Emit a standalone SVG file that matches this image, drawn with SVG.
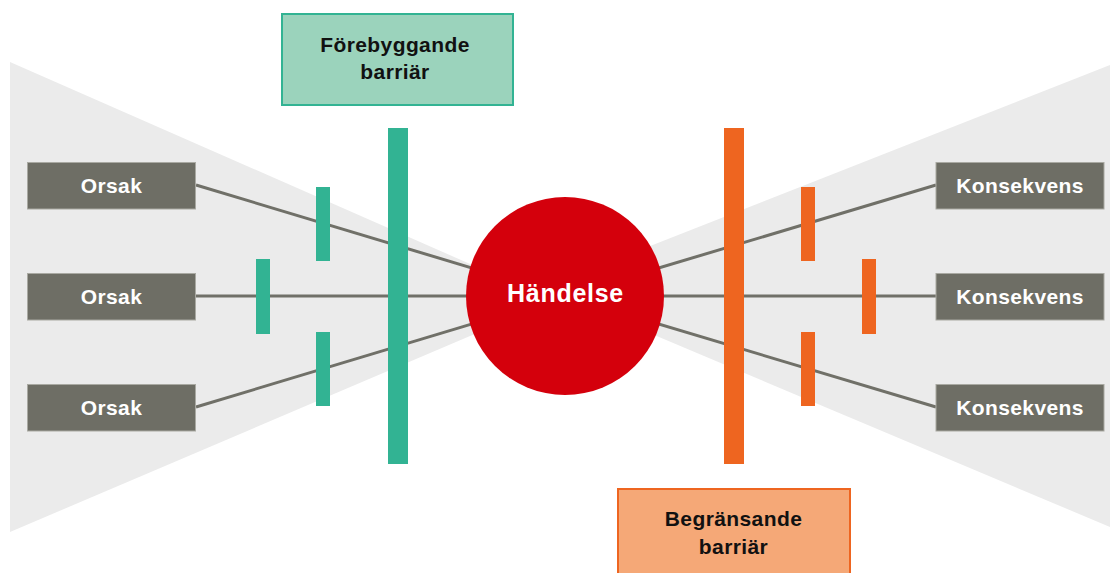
<svg xmlns="http://www.w3.org/2000/svg" width="1110" height="573" viewBox="0 0 1110 573">
<style>
.bg{fill:#ebebeb}
.box{fill:#6e6e65;stroke:#a9a9a2;stroke-width:1}
.lbl{font-family:"Liberation Sans",Arial,sans-serif;font-weight:bold;font-size:21px;letter-spacing:0.4px;fill:#ffffff;text-anchor:middle}
.dark{fill:#111111}
.conn{stroke:#707068;stroke-width:3;fill:none}
.g{fill:#32b393}
.o{fill:#ee6520}
</style>
<rect width="1110" height="573" fill="#ffffff"/>
<polygon class="bg" points="10,62 490,272.7 490,327.6 10,532"/>
<polygon class="bg" points="1110,65 640,250 640,329 1110,527"/>
<g id="connectors">
<line class="conn" x1="196" y1="185" x2="565" y2="296"/>
<line class="conn" x1="196" y1="296" x2="565" y2="296"/>
<line class="conn" x1="196" y1="407" x2="565" y2="296"/>
<line class="conn" x1="936" y1="185" x2="565" y2="296"/>
<line class="conn" x1="936" y1="296" x2="565" y2="296"/>
<line class="conn" x1="936" y1="407" x2="565" y2="296"/>
</g>
<g id="barriers-preventive">
<rect class="g" x="388" y="128" width="20" height="336"/>
<rect class="g" x="316" y="187" width="14" height="74"/>
<rect class="g" x="256" y="259" width="14" height="75"/>
<rect class="g" x="316" y="332" width="14" height="74"/>
</g>
<g id="barriers-limiting">
<rect class="o" x="724" y="128" width="20" height="336"/>
<rect class="o" x="801" y="187" width="14" height="74"/>
<rect class="o" x="862" y="259" width="14" height="75"/>
<rect class="o" x="801" y="332" width="14" height="74"/>
</g>
<g id="event">
<circle cx="565" cy="296" r="99" fill="#d4000c"/>
<text class="lbl" x="565.5" y="302" style="font-size:25px;letter-spacing:0.7px">Händelse</text>
</g>
<g id="orsak1"><rect class="box" x="27.5" y="162.5" width="168" height="46.5"/><text class="lbl" x="111.5" y="192.5">Orsak</text></g>
<g id="orsak2"><rect class="box" x="27.5" y="273.5" width="168" height="46.5"/><text class="lbl" x="111.5" y="303.5">Orsak</text></g>
<g id="orsak3"><rect class="box" x="27.5" y="384.5" width="168" height="46.5"/><text class="lbl" x="111.5" y="414.5">Orsak</text></g>
<g id="konsekvens1"><rect class="box" x="936" y="162.5" width="168" height="46.5"/><text class="lbl" x="1020" y="192.5">Konsekvens</text></g>
<g id="konsekvens2"><rect class="box" x="936" y="273.5" width="168" height="46.5"/><text class="lbl" x="1020" y="303.5">Konsekvens</text></g>
<g id="konsekvens3"><rect class="box" x="936" y="384.5" width="168" height="46.5"/><text class="lbl" x="1020" y="414.5">Konsekvens</text></g>
<g id="forebyggande">
<rect x="282" y="14" width="231" height="91" fill="#9bd3bc" stroke="#32b393" stroke-width="2"/>
<text class="lbl dark" x="395" y="52">Förebyggande</text>
<text class="lbl dark" x="395" y="79">barriär</text>
</g>
<g id="begransande">
<rect x="618" y="489" width="232" height="90" fill="#f5a877" stroke="#ee6520" stroke-width="2"/>
<text class="lbl dark" x="733.5" y="526">Begränsande</text>
<text class="lbl dark" x="733.5" y="554">barriär</text>
</g>
</svg>
